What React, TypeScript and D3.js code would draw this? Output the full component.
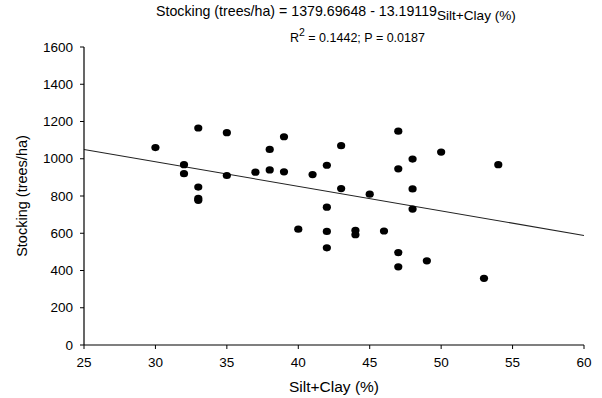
import React from "react";
import * as d3 from "d3";

const siltClay = [30, 32, 32, 33, 33, 33, 33, 35, 35, 37, 38, 38, 39, 39, 40, 41, 42, 42, 42, 42, 43, 43, 44, 44, 45, 46, 47, 47, 47, 47, 48, 48, 48, 49, 50, 53, 54];
const stocking = [1060, 968, 920, 1165, 848, 787, 777, 1140, 910, 928, 1050, 940, 1118, 930, 622, 915, 965, 740, 610, 522, 1070, 840, 615, 592, 810, 612, 1148, 946, 496, 420, 998, 838, 730, 452, 1036, 358, 968];
const xTicks = [25, 30, 35, 40, 45, 50, 55, 60];
const yTicks = [0, 200, 400, 600, 800, 1000, 1200, 1400, 1600];
const intercept = 1379.69648;
const slope = -13.19119;

const W = 602;
const H = 398;
const FONT = "'Liberation Sans', Arial, sans-serif";

export default function App() {
  const x = d3.scaleLinear().domain([25, 60]).range([84, 584]);
  const y = d3.scaleLinear().domain([0, 1600]).range([345, 47]);
  const line = d3
    .line<number>()
    .x((d) => x(d))
    .y((d) => y(intercept + slope * d));
  const points = siltClay.map((v, i) => ({ x: v, y: stocking[i] }));

  return (
    <svg
      width={W}
      height={H}
      style={{ position: "absolute", left: 0, top: 0, background: "#fff" }}
      fontFamily={FONT}
    >
      <rect width={W} height={H} fill="#fff" />
      {/* title */}
      <text x={156} y={16} fontSize={14.2} fill="#000">
        Stocking (trees/ha) = 1379.69648 - 13.19119
        <tspan fontSize={13.6} dy={4}>Silt+Clay (%)</tspan>
      </text>
      <text x={290} y={42} fontSize={12.5} fill="#000">
        R<tspan fontSize={10.5} dy={-6}>2</tspan>
        <tspan dy={6}> = 0.1442; P = 0.0187</tspan>
      </text>

      {/* regression line */}
      <path d={line(x.domain()) || ""} fill="none" stroke="#222" strokeWidth={1.1} />

      {/* points */}
      {points.map((p, i) => (
        <ellipse key={i} cx={x(p.x)} cy={y(p.y)} rx={4.1} ry={3.6} fill="#000" />
      ))}

      {/* axes */}
      <line x1={x(25)} x2={x(25)} y1={y(1600)} y2={y(0)} stroke="#000" strokeWidth={1.2} />
      <line x1={x(25)} x2={x(60)} y1={y(0)} y2={y(0)} stroke="#000" strokeWidth={1.2} />
      {yTicks.map((t) => (
        <g key={"y" + t}>
          <line x1={x(25) - 4} x2={x(25)} y1={y(t)} y2={y(t)} stroke="#000" strokeWidth={1} />
          <text x={x(25) - 11} y={y(t)} dy="0.35em" textAnchor="end" fontSize={13.5} fill="#000">
            {t}
          </text>
        </g>
      ))}
      {xTicks.map((t) => (
        <g key={"x" + t}>
          <line x1={x(t)} x2={x(t)} y1={y(0)} y2={y(0) + 4} stroke="#000" strokeWidth={1} />
          <text x={x(t)} y={367} textAnchor="middle" fontSize={13.5} fill="#000">
            {t}
          </text>
        </g>
      ))}

      {/* axis titles */}
      <text x={(x(25) + x(60)) / 2} y={392} textAnchor="middle" fontSize={15.5} fill="#000">
        Silt+Clay (%)
      </text>
      <text
        transform={`translate(27, ${(y(0) + y(1600)) / 2}) rotate(-90)`}
        textAnchor="middle"
        fontSize={14.5}
        fill="#000"
      >
        Stocking (trees/ha)
      </text>
    </svg>
  );
}
